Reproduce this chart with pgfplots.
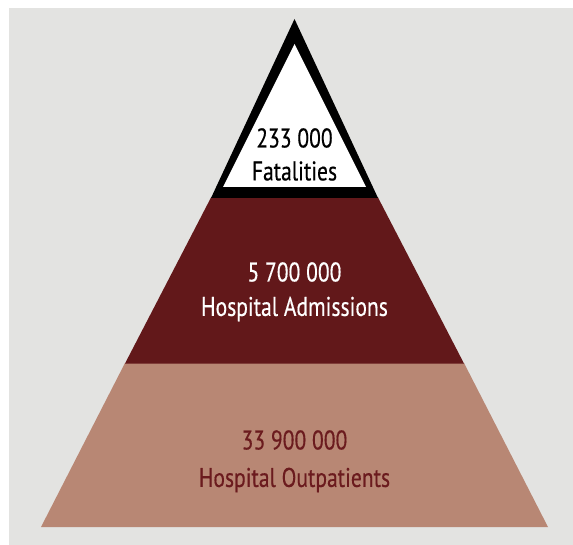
\documentclass[border=0pt]{standalone}
\usepackage{pgfplots}
\pgfplotsset{compat=1.18}
\usepackage{fontspec}
\setmainfont[FakeStretch=0.8,FakeBold=0.4]{PT Sans}
\definecolor{bggrey}{RGB}{227,227,225}
\definecolor{darkred}{RGB}{98,24,26}
\definecolor{lightbrown}{RGB}{184,135,116}
\definecolor{txtred}{RGB}{107,27,30}
\begin{document}
\begin{tikzpicture}
\begin{axis}[
  width=573pt, height=545pt, scale only axis,
  xmin=0, xmax=573, ymin=0, ymax=545, y dir=reverse,
  hide axis, clip=false,
]
% background panel
\addplot[draw=none, fill=white] coordinates {(0,0) (573,0) (573,545) (0,545)} -- cycle;
\addplot[draw=none, fill=bggrey] coordinates {(9,8) (573,8) (573,545) (9,545)} -- cycle;
% bottom layer: 33 900 000 hospital outpatients
\addplot[draw=none, fill=lightbrown] coordinates {(41,527) (548,527) (464,363) (125,363)} -- cycle;
% middle layer: 5 700 000 hospital admissions
\addplot[draw=none, fill=darkred] coordinates {(125,363.5) (464,363.5) (378,197.5) (211,197.5)} -- cycle;
% top layer: 233 000 fatalities
\addplot[draw=none, fill=black] coordinates {(211,198) (378,198) (294.5,19)} -- cycle;
\addplot[draw=none, fill=white] coordinates {(223,187) (366,187) (294.5,44)} -- cycle;
\node[font=\fontsize{27}{27}\selectfont, text=black] at (axis cs:294.5,138) {233 000};
\node[font=\fontsize{27}{27}\selectfont, text=black] at (axis cs:294.5,171) {Fatalities};
\node[font=\fontsize{27}{27}\selectfont, text=white] at (axis cs:294.5,272) {5 700 000};
\node[font=\fontsize{27}{27}\selectfont, text=white] at (axis cs:294.5,309) {Hospital Admissions};
\node[font=\fontsize{27}{27}\selectfont, text=txtred] at (axis cs:294.5,440) {33 900 000};
\node[font=\fontsize{27}{27}\selectfont, text=txtred] at (axis cs:294.5,480) {Hospital Outpatients};
\end{axis}
\end{tikzpicture}
\end{document}
